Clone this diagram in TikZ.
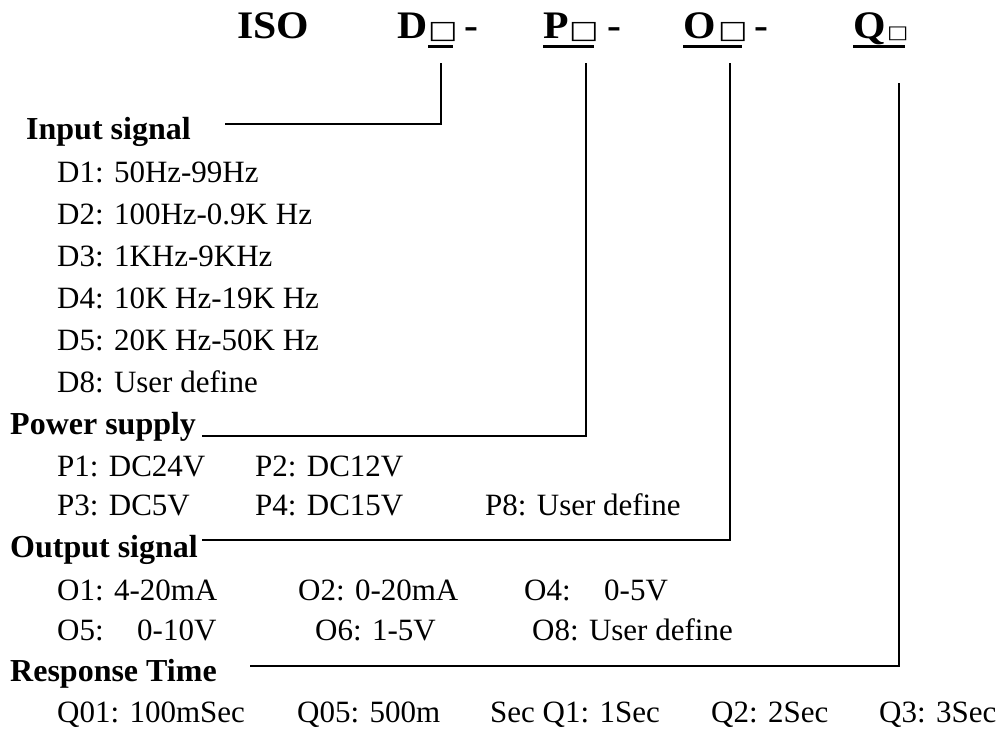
\documentclass[tikz,border=0pt]{standalone}
\usepackage{fontspec}
\setmainfont{Liberation Serif}
\newfontfamily\headfont[FakeStretch=1.07]{Liberation Serif}
\newfontfamily\boxfont[FakeStretch=1.25]{DejaVu Sans}
\usepackage{tikz}

\begin{document}
\begin{tikzpicture}[x=1pt, y=-1pt]
		% Define the styles for the texts and lines
		\tikzstyle{head}=[anchor=base west, inner sep=0pt, font=\headfont\bfseries\fontsize{39}{39}\selectfont]
		\tikzstyle{codebox}=[anchor=base west, inner sep=0pt, font=\boxfont\fontsize{25}{25}\selectfont]
		\tikzstyle{section}=[anchor=base west, inner sep=0pt, font=\bfseries\fontsize{32}{32}\selectfont]
		\tikzstyle{item}=[anchor=base west, inner sep=0pt, font=\fontsize{31}{31}\selectfont]
		\tikzstyle{leader}=[line width=1.6pt]
		\tikzstyle{uline}=[line width=3pt]

		\useasboundingbox (0,0) rectangle (996,731);

		% Define the code line
		\node[head] (iso) at (237,38) {ISO};
		\node[head] (dlet) at (397,38) {D};
		\node[codebox] (dbox) at (428,38) {□};
		\node[head] (ddash) at (464,38) {-};
		\node[head] (plet) at (543,38) {P};
		\node[codebox] (pbox) at (569,38) {□};
		\node[head] (pdash) at (607,38) {-};
		\node[head] (olet) at (683,38) {O};
		\node[codebox] (obox) at (718,38) {□};
		\node[head] (odash) at (754,38) {-};
		\node[head] (qlet) at (853,38) {Q};
		\node[codebox, font=\boxfont\fontsize{18}{18}\selectfont] (qbox) at (887,38) {□};

		% Underlines
		\draw[uline] (428,46) -- (453,46);
		\draw[uline] (543,46) -- (594,46);
		\draw[uline] (683,46) -- (742,46);
		\draw[uline] (853,46) -- (905,46);

		% Input signal
		\node[section] (input) at (26,139) {Input signal};
		\node[item] (d1) at (57,182) {D1: 50Hz-99Hz};
		\node[item] (d2) at (57,224) {D2: 100Hz-0.9K Hz};
		\node[item] (d3) at (57,266) {D3: 1KHz-9KHz};
		\node[item] (d4) at (57,308) {D4: 10K Hz-19K Hz};
		\node[item] (d5) at (57,350) {D5: 20K Hz-50K Hz};
		\node[item] (d8) at (57,392) {D8: User define};

		% Power supply
		\node[section] (power) at (10,434) {Power supply};
		\node[item] (p1) at (57,476) {P1: DC24V};
		\node[item] (p2) at (255,476) {P2: DC12V};
		\node[item] (p3) at (57,515) {P3: DC5V};
		\node[item] (p4) at (255,515) {P4: DC15V};
		\node[item] (p8) at (485,515) {P8: User define};

		% Output signal
		\node[section] (output) at (10,557) {Output signal};
		\node[item] (o1) at (57,600) {O1: 4-20mA};
		\node[item] (o2) at (298,600) {O2: 0-20mA};
		\node[item] (o4) at (524,600) {O4:};
		\node[item] (o4v) at (604,600) {0-5V};
		\node[item] (o5) at (57,640) {O5:};
		\node[item] (o5v) at (137,640) {0-10V};
		\node[item] (o6) at (315,640) {O6: 1-5V};
		\node[item] (o8) at (532,640) {O8: User define};

		% Response time
		\node[section] (response) at (10,681) {Response Time};
		\node[item] (q01) at (57,722) {Q01: 100mSec};
		\node[item] (q05) at (297,722) {Q05: 500m};
		\node[item] (q1) at (490,722) {Sec Q1: 1Sec};
		\node[item] (q2) at (711,722) {Q2: 2Sec};
		\node[item] (q3) at (879,722) {Q3: 3Sec};

		% Define the leader lines
		\coordinate (dtop) at (441,63);
		\coordinate (ptop) at (586,63);
		\coordinate (otop) at (730,63);
		\coordinate (qtop) at (899,83);
		\coordinate (inend) at (225,124);
		\coordinate (pwend) at (202,436);
		\coordinate (outend) at (202,540);
		\coordinate (resend) at (250,666);
		\draw[leader] (dtop) |- (inend);
		\draw[leader] (ptop) |- (pwend);
		\draw[leader] (otop) |- (outend);
		\draw[leader] (qtop) |- (resend);
	\end{tikzpicture}
\end{document}
